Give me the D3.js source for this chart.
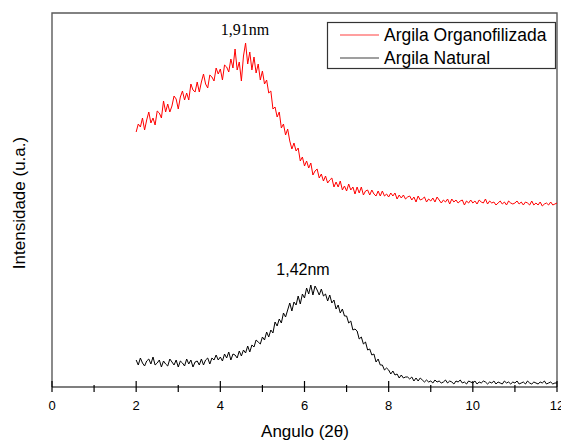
<!DOCTYPE html>
<html>
<head>
<meta charset="utf-8">
<script src="https://cdn.jsdelivr.net/npm/d3@7"></script>
<style>
  html, body { margin: 0; padding: 0; background: #fff; }
  svg { display: block; }
</style>
</head>
<body>
<svg id="chart" width="561" height="441"></svg>
<script>
// XRD patterns, 2θ from 2° to 12° in steps of 0.05°
const angleStart = 2, angleStep = 0.05;

const organofilizada = [
  255,263,260,269,257,267,275,264,269,262,
  276,274,269,286,275,283,275,281,291,288,
  278,290,296,287,294,287,303,297,295,305,
  295,305,313,303,299,312,310,306,319,313,
  318,307,322,320,315,328,319,338,317,325,
  306,331,344,323,335,317,330,314,323,307,
  316,303,307,294,296,278,280,270,275,259,
  263,252,258,246,238,244,236,239,226,230,
  221,226,219,224,212,216,218,209,213,206,
  211,204,207,209,200,205,200,206,197,201,
  196,203,197,200,193,200,194,200,192,196,
  197,192,197,193,191,196,191,196,191,193,
  190,194,191,194,188,192,189,192,188,190,
  191,187,190,185,191,187,188,190,185,188,
  186,189,185,190,187,184,187,185,188,183,
  188,185,187,184,186,187,182,186,184,187,
  184,186,183,187,185,184,188,183,186,184,
  185,182,184,186,183,185,182,186,184,183,
  184,186,183,185,182,185,184,182,186,182,
  184,182,185,181,183,184,182,185,182,183,
  184
];

const natural = [
  27,22,29,24,21,26,28,23,30,22,
  24,27,20,26,23,21,28,25,22,27,
  20,26,24,21,28,23,27,20,25,26,
  22,28,22,27,29,23,29,27,32,27,
  30,26,33,29,35,27,33,32,29,36,
  31,37,34,41,35,42,40,47,45,43,
  50,47,55,50,57,54,65,61,68,64,
  74,70,77,84,76,85,82,91,83,93,
  89,99,93,102,92,101,97,92,98,91,
  93,86,92,84,87,78,82,74,78,71,
  71,64,66,57,58,56,48,50,43,45,
  37,38,32,33,25,28,22,22,17,19,
  17,13,16,12,13,9,12,9,10,10,
  8,10,6,9,6,9,7,5,7,5,
  6,4,7,5,6,4,5,7,4,6,
  5,3,6,5,7,4,5,3,6,5,
  4,6,3,5,4,6,5,3,5,4,
  6,3,5,4,3,6,4,5,3,5,
  4,6,3,4,5,3,6,4,3,5,
  4,3,5,4,6,3,4,5,3,4,
  4
];

const xTicks = [0, 2, 4, 6, 8, 10, 12];
const xMinorTicks = [1, 3, 5, 7, 9, 11];
const seriesNames = ["Argila Organofilizada", "Argila Natural"];
const seriesColors = ["#ff0000", "#000000"];
const peakLabels = ["1,91nm", "1,42nm"];

const svg = d3.select("#chart");
const plotLeft = 52, plotRight = 557, plotTop = 13, plotBottom = 387;

const x = d3.scaleLinear().domain([0, 12]).range([plotLeft, plotRight]);
const y = d3.scaleLinear().domain([0, 374]).range([plotBottom, plotTop]);

const toPoints = arr => arr.map((v, i) => [angleStart + i * angleStep, v]);

const line = d3.line().x(d => x(d[0])).y(d => y(d[1]));

// frame (top, left, right)
svg.append("path")
  .attr("d", `M${plotLeft},${plotBottom}V${plotTop}H${plotRight}V${plotBottom}`)
  .attr("fill", "none").attr("stroke", "#5a5a5a").attr("stroke-width", 1.4);

// curves
[organofilizada, natural].forEach((arr, i) => {
  svg.append("path")
    .datum(toPoints(arr))
    .attr("d", line)
    .attr("fill", "none")
    .attr("stroke", seriesColors[i])
    .attr("stroke-width", 1)
    .attr("stroke-linejoin", "round");
});

// bottom axis
const axisG = svg.append("g").attr("transform", `translate(0,${plotBottom})`);
axisG.append("line").attr("x1", plotLeft).attr("x2", plotRight).attr("stroke", "#000").attr("stroke-width", 1.2);
axisG.selectAll(".major").data(xTicks).join("line")
  .attr("x1", d => x(d)).attr("x2", d => x(d)).attr("y1", -6).attr("y2", 5)
  .attr("stroke", "#000").attr("stroke-width", 1.2);
axisG.selectAll(".minor").data(xMinorTicks).join("line")
  .attr("x1", d => x(d)).attr("x2", d => x(d)).attr("y1", -2).attr("y2", 5)
  .attr("stroke", "#000").attr("stroke-width", 1.2);
axisG.selectAll(".lbl").data(xTicks).join("text")
  .attr("x", d => x(d)).attr("y", 23)
  .attr("text-anchor", "middle")
  .attr("font-family", "Liberation Sans, Arial, sans-serif")
  .attr("font-size", 13)
  .attr("fill", "#000")
  .text(d => d);

// axis titles
svg.append("text")
  .attr("x", 305).attr("y", 437)
  .attr("text-anchor", "middle")
  .attr("font-family", "Liberation Sans, Arial, sans-serif")
  .attr("font-size", 17)
  .text("Angulo (2θ)");

svg.append("text")
  .attr("transform", "translate(25,203) rotate(-90)")
  .attr("text-anchor", "middle")
  .attr("font-family", "Liberation Sans, Arial, sans-serif")
  .attr("font-size", 17)
  .text("Intensidade (u.a.)");

// peak labels
svg.append("text")
  .attr("x", 245).attr("y", 35)
  .attr("text-anchor", "middle")
  .attr("font-family", "Liberation Serif, Times New Roman, serif")
  .attr("font-size", 16)
  .text(peakLabels[0]);

svg.append("text")
  .attr("x", 303).attr("y", 275)
  .attr("text-anchor", "middle")
  .attr("font-family", "Liberation Sans, Arial, sans-serif")
  .attr("font-size", 16)
  .text(peakLabels[1]);

// legend
const lg = svg.append("g");
lg.append("rect").attr("x", 327.5).attr("y", 22.5).attr("width", 228).attr("height", 46)
  .attr("fill", "#fff").attr("stroke", "#333").attr("stroke-width", 1.2);
seriesNames.forEach((name, i) => {
  const cy = 35 + i * 23;
  lg.append("line").attr("x1", 340).attr("x2", 379).attr("y1", cy).attr("y2", cy)
    .attr("stroke", seriesColors[i]).attr("stroke-width", 1).attr("opacity", 0.75);
  lg.append("text").attr("x", 384).attr("y", cy + 6)
    .attr("font-family", "Liberation Sans, Arial, sans-serif")
    .attr("font-size", 17.5)
    .text(name);
});
</script>
</body>
</html>
